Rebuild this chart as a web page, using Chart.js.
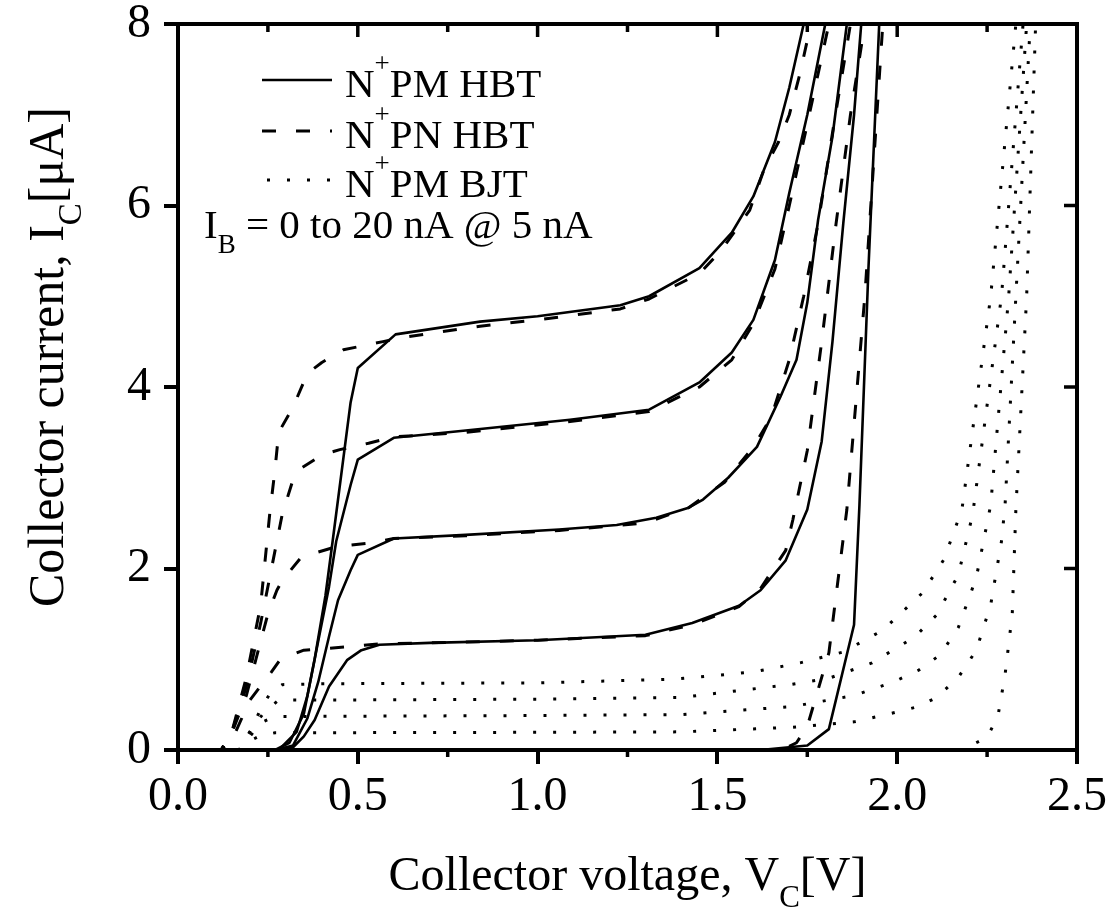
<!DOCTYPE html>
<html>
<head>
<meta charset="utf-8">
<script src="https://cdn.jsdelivr.net/npm/chart.js@4.4.0/dist/chart.umd.min.js"></script>
<style>
  html, body { margin: 0; background: #fff; }
  #wrap { width: 1112px; height: 917px; }
</style>
</head>
<body>
<div id="wrap"><canvas id="chart"></canvas></div>
<script>
// axis ranges and ticks
const xRange = [0, 2.5]
const yRange = [0, 8]
const xStep = 0.5
const yStep = 2
const xMinorTicks = [0.25, 0.75, 1.25, 1.75, 2.25]

// base currents of the curves (nA)
const baseCurrents = [0, 5, 10, 15, 20]

// N+PM HBT (solid), collector voltage [V] / collector current [uA]
const pmHbt0V = [0, 1.62, 1.75, 1.81, 1.88, 1.895, 1.92, 1.95]
const pmHbt0I = [0, 0, 0.05, 0.23, 1.38, 2.7, 5.3, 8]
const pmHbt5V = [0, 0.29, 0.32, 0.35, 0.38, 0.42, 0.47, 0.51, 0.56, 0.7, 1.0, 1.3, 1.43, 1.56, 1.62, 1.69, 1.75, 1.79, 1.82, 1.85, 1.88, 1.90]
const pmHbt5I = [0, 0, 0.03, 0.15, 0.33, 0.7, 0.99, 1.1, 1.16, 1.18, 1.21, 1.27, 1.40, 1.59, 1.76, 2.09, 2.65, 3.4, 4.5, 5.8, 7.0, 8]
const pmHbt10V = [0, 0.27, 0.32, 0.36, 0.39, 0.42, 0.445, 0.48, 0.50, 0.60, 0.8, 1.06, 1.22, 1.33, 1.42, 1.46, 1.53, 1.61, 1.675, 1.72, 1.75, 1.78, 1.82, 1.86]
const pmHbt10I = [0, 0, 0.05, 0.35, 0.75, 1.25, 1.65, 1.98, 2.15, 2.33, 2.37, 2.43, 2.48, 2.56, 2.67, 2.76, 3.0, 3.34, 3.89, 4.3, 4.93, 5.84, 6.76, 8]
const pmHbt15V = [0, 0.28, 0.33, 0.36, 0.39, 0.42, 0.44, 0.48, 0.50, 0.60, 0.8, 1.09, 1.31, 1.45, 1.54, 1.60, 1.66, 1.70, 1.75, 1.80]
const pmHbt15I = [0, 0, 0.2, 0.6, 1.2, 1.8, 2.3, 2.92, 3.2, 3.44, 3.52, 3.64, 3.75, 4.05, 4.38, 4.74, 5.4, 6.14, 7.0, 8]
const pmHbt20V = [0, 0.27, 0.31, 0.35, 0.38, 0.41, 0.43, 0.48, 0.50, 0.605, 0.84, 1.0, 1.23, 1.31, 1.45, 1.54, 1.60, 1.66, 1.70, 1.74]
const pmHbt20I = [0, 0, 0.08, 0.4, 1.0, 1.7, 2.3, 3.83, 4.21, 4.58, 4.72, 4.78, 4.9, 5.0, 5.31, 5.7, 6.1, 6.7, 7.3, 8]

// N+PN HBT (dashed)
const pnHbt0V = [0, 1.68, 1.72, 1.75, 1.81, 1.86, 1.91, 1.96]
const pnHbt0I = [0, 0, 0.08, 0.26, 1.07, 2.65, 5.0, 8]
const pnHbt5V = [0, 0.12, 0.15, 0.20, 0.26, 0.285, 0.35, 0.48, 0.56, 0.8, 1.0, 1.3, 1.43, 1.56, 1.62, 1.69, 1.71, 1.75, 1.79, 1.83, 1.87, 1.91]
const pnHbt5I = [0, 0, 0.11, 0.55, 0.86, 1.0, 1.10, 1.14, 1.17, 1.19, 1.21, 1.26, 1.38, 1.58, 1.78, 2.2, 2.54, 3.3, 4.5, 5.8, 7.0, 8]
const pnHbt10V = [0, 0.12, 0.15, 0.19, 0.23, 0.25, 0.275, 0.29, 0.34, 0.38, 0.44, 0.535, 0.6, 0.8, 1.06, 1.3, 1.42, 1.52, 1.60, 1.65, 1.70, 1.74, 1.78, 1.82, 1.87]
const pnHbt10I = [0, 0, 0.19, 0.6, 1.2, 1.5, 1.76, 1.87, 2.11, 2.17, 2.24, 2.28, 2.33, 2.36, 2.42, 2.5, 2.67, 2.95, 3.34, 3.67, 4.3, 5.0, 5.8, 6.8, 8]
const pnHbt15V = [0, 0.12, 0.15, 0.19, 0.23, 0.26, 0.29, 0.32, 0.34, 0.40, 0.45, 0.53, 0.6, 0.8, 1.09, 1.31, 1.45, 1.54, 1.60, 1.66, 1.70, 1.75, 1.81]
const pnHbt15I = [0, 0, 0.2, 0.7, 1.4, 2.0, 2.6, 2.98, 3.1, 3.25, 3.31, 3.38, 3.45, 3.50, 3.62, 3.73, 4.0, 4.3, 4.7, 5.3, 6.0, 6.9, 8]
const pnHbt20V = [0, 0.12, 0.15, 0.19, 0.23, 0.255, 0.27, 0.28, 0.32, 0.36, 0.40, 0.46, 0.57, 0.63, 0.84, 1.0, 1.23, 1.31, 1.45, 1.51, 1.59, 1.63, 1.67, 1.70, 1.73, 1.76]
const pnHbt20I = [0, 0, 0.2, 0.8, 1.6, 2.6, 3.1, 3.5, 3.78, 4.15, 4.27, 4.41, 4.5, 4.55, 4.67, 4.74, 4.86, 4.97, 5.25, 5.5, 5.95, 6.4, 6.7, 7.0, 7.46, 8]

// N+PM BJT (dotted)
const pmBjt0V = [0, 2.18, 2.25, 2.28, 2.30, 2.32, 2.33, 2.36, 2.385]
const pmBjt0I = [0, 0, 0.14, 0.37, 0.83, 1.5, 2.65, 5, 8]
const pmBjt5V = [0, 0.17, 0.20, 0.23, 0.27, 0.35, 1.0, 1.4, 1.71, 1.88, 1.99, 2.06, 2.11, 2.17, 2.22, 2.26, 2.29, 2.30, 2.33, 2.37]
const pmBjt5I = [0, 0, 0.1, 0.16, 0.19, 0.19, 0.195, 0.2, 0.25, 0.31, 0.41, 0.48, 0.58, 0.8, 1.1, 1.6, 2.3, 2.7, 5, 8]
const pmBjt10V = [0, 0.17, 0.20, 0.23, 0.27, 0.35, 1.0, 1.4, 1.71, 1.88, 1.99, 2.06, 2.12, 2.17, 2.22, 2.26, 2.31, 2.36]
const pmBjt10I = [0, 0, 0.15, 0.3, 0.37, 0.37, 0.38, 0.39, 0.48, 0.6, 0.75, 0.88, 1.05, 1.35, 1.9, 2.7, 5, 8]
const pmBjt15V = [0, 0.17, 0.20, 0.24, 0.28, 0.35, 1.0, 1.4, 1.70, 1.81, 1.93, 2.05, 2.11, 2.17, 2.21, 2.29, 2.35]
const pmBjt15I = [0, 0, 0.2, 0.42, 0.55, 0.55, 0.56, 0.58, 0.72, 0.79, 0.96, 1.25, 1.49, 1.93, 2.6, 5, 8]
const pmBjt20V = [0, 0.17, 0.20, 0.23, 0.26, 0.29, 0.4, 1.0, 1.38, 1.6, 1.73, 1.85, 1.96, 2.07, 2.13, 2.18, 2.26, 2.33]
const pmBjt20I = [0, 0, 0.2, 0.45, 0.65, 0.72, 0.73, 0.74, 0.78, 0.86, 0.96, 1.08, 1.32, 1.73, 2.1, 2.65, 5, 8]

const families = [
  { name: 'N+PM HBT', dash: [], width: 2.6, curves: [[pmHbt0V, pmHbt0I], [pmHbt5V, pmHbt5I], [pmHbt10V, pmHbt10I], [pmHbt15V, pmHbt15I], [pmHbt20V, pmHbt20I]] },
  { name: 'N+PN HBT', dash: [14, 20], width: 3, curves: [[pnHbt0V, pnHbt0I], [pnHbt5V, pnHbt5I], [pnHbt10V, pnHbt10I], [pnHbt15V, pnHbt15I], [pnHbt20V, pnHbt20I]] },
  { name: 'N+PM BJT', dash: [3, 17], width: 3, curves: [[pmBjt0V, pmBjt0I], [pmBjt5V, pmBjt5I], [pmBjt10V, pmBjt10I], [pmBjt15V, pmBjt15I], [pmBjt20V, pmBjt20I]] }
]

const serif = '"Liberation Serif", "Times New Roman", serif'

const datasets = []
families.forEach(fam => {
  fam.curves.forEach(([vs, is], k) => {
    datasets.push({
      label: fam.name + ' IB=' + baseCurrents[k] + ' nA',
      data: vs.map((v, i) => ({ x: v, y: is[i] })),
      borderColor: '#000',
      borderWidth: fam.width,
      borderDash: fam.dash,
      borderCapStyle: 'butt',
      borderJoinStyle: 'round',
      showLine: true,
      pointRadius: 0,
      tension: 0
    })
  })
})

// draws text pieces with super/subscripts, returns width
function richText(ctx, parts, x, y, size, measureOnly) {
  let cx = x
  for (const p of parts) {
    const fs = p.pos ? Math.round(size * 0.65) : size
    ctx.font = fs + 'px ' + serif
    const dy = p.pos === 'sup' ? -size * 0.62 : p.pos === 'sub' ? size * 0.36 : 0
    if (!measureOnly) ctx.fillText(p.t, cx, y + dy)
    cx += ctx.measureText(p.t).width
  }
  return cx - x
}

const frame = {
  id: 'frame',
  afterDraw(chart) {
    const { ctx, chartArea: a, scales: { x, y } } = chart
    ctx.save()
    ctx.strokeStyle = '#000'
    ctx.fillStyle = '#000'
    ctx.lineWidth = 4
    ctx.strokeRect(a.left, a.top, a.right - a.left, a.bottom - a.top)

    ctx.lineWidth = 3.5
    ctx.beginPath()
    // top mirror ticks (inward) and bottom minor ticks (outward)
    for (let v = xRange[0] + xStep; v < xRange[1] - 1e-9; v += xStep) {
      const px = x.getPixelForValue(v)
      ctx.moveTo(px, a.top); ctx.lineTo(px, a.top + 13)
    }
    xMinorTicks.forEach(v => {
      const px = x.getPixelForValue(v)
      ctx.moveTo(px, a.top); ctx.lineTo(px, a.top + 8)
      ctx.moveTo(px, a.bottom); ctx.lineTo(px, a.bottom + 7)
    })
    // right mirror ticks (inward)
    for (let v = yRange[0] + yStep; v < yRange[1]; v += yStep) {
      const py = y.getPixelForValue(v)
      ctx.moveTo(a.right, py); ctx.lineTo(a.right - 13, py)
    }
    ctx.stroke()

    // legend
    ctx.textBaseline = 'alphabetic'
    ctx.textAlign = 'left'
    const legendRows = [97, 148, 197]
    families.forEach((fam, i) => {
      const ly = legendRows[i] - 17
      ctx.lineWidth = fam.width
      ctx.setLineDash(fam.dash)
      ctx.lineDashOffset = 0
      ctx.beginPath()
      ctx.moveTo(i === 2 ? 267 : 262, ly)
      ctx.lineTo(332, ly)
      ctx.stroke()
      ctx.setLineDash([])
      const [n, rest] = [fam.name.slice(0, 1), fam.name.slice(2)]
      richText(ctx, [{ t: n }, { t: '+', pos: 'sup' }, { t: rest }], 345, legendRows[i], 41)
    })

    // base current note
    richText(ctx, [{ t: 'I' }, { t: 'B', pos: 'sub' }, { t: ' = 0 to 20 nA @ 5 nA' }], 204, 238, 41)

    // x axis title
    const xParts = [{ t: 'Collector voltage, V' }, { t: 'C', pos: 'sub' }, { t: '[V]' }]
    const xw = richText(ctx, xParts, 0, 0, 48, true)
    richText(ctx, xParts, (a.left + a.right) / 2 - xw / 2, 890, 48)

    // y axis title
    const yParts = [{ t: 'Collector current, I' }, { t: 'C', pos: 'sub' }, { t: '[\u03bcA]' }]
    const yw = richText(ctx, yParts, 0, 0, 50, true)
    ctx.translate(63, 357)
    ctx.rotate(-Math.PI / 2)
    richText(ctx, yParts, -yw / 2, 0, 50)
    ctx.restore()
  }
}

new Chart(document.getElementById('chart'), {
  type: 'scatter',
  data: { datasets },
  plugins: [frame],
  options: {
    responsive: true,
    maintainAspectRatio: false,
    animation: false,
    devicePixelRatio: 1,
    layout: { padding: { left: 0, right: 35, top: 24, bottom: 0 } },
    plugins: { legend: { display: false }, tooltip: { enabled: false } },
    scales: {
      x: {
        type: 'linear',
        min: xRange[0],
        max: xRange[1],
        ticks: {
          stepSize: xStep,
          color: '#000',
          padding: 5,
          maxRotation: 0,
          font: { family: serif, size: 48 },
          callback: v => v.toFixed(1)
        },
        grid: { drawOnChartArea: false, drawTicks: true, tickLength: 14, color: '#000', lineWidth: 4 },
        border: { display: true, color: '#000', width: 4 },
        afterFit(scale) { scale.height = 167; scale.paddingLeft = 0; scale.paddingRight = 0 }
      },
      y: {
        type: 'linear',
        min: yRange[0],
        max: yRange[1],
        ticks: {
          stepSize: yStep,
          color: '#000',
          padding: 13,
          font: { family: serif, size: 48 },
          callback: v => String(v)
        },
        grid: { drawOnChartArea: false, drawTicks: true, tickLength: 14, color: '#000', lineWidth: 4 },
        border: { display: true, color: '#000', width: 4 },
        afterFit(scale) { scale.width = 178; scale.paddingTop = 0; scale.paddingBottom = 0 }
      }
    }
  }
})
</script>
</body>
</html>
